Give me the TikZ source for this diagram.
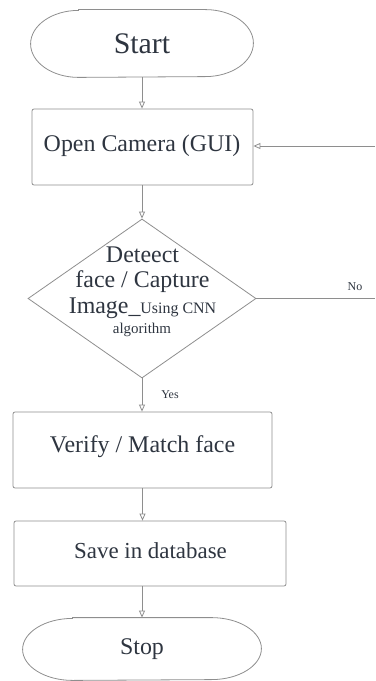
\documentclass[tikz,border=0pt]{standalone}
\usepackage{fontspec}
\setmainfont{Liberation Serif}
\usetikzlibrary{arrows.meta,shapes.geometric,calc}
\definecolor{linec}{HTML}{8E8E8E}
\definecolor{txtc}{HTML}{2E3540}
\begin{document}
\begin{tikzpicture}[x=1bp,y=-1bp,
  line width=0.8bp,
  box/.style={draw=linec, rounded corners=2bp, inner sep=0pt, text=txtc},
  term/.style={inner sep=0pt, text=txtc},
  lbl/.style={inner sep=0pt, text=txtc},
  arr/.style={draw=linec, -{Triangle[open,length=7bp,width=6bp]}},
  plain/.style={draw=linec}]
\useasboundingbox (0,0) rectangle (375,681);

% Start terminal
\node[term, minimum width=222bp, minimum height=67bp, font=\fontsize{30}{32}\selectfont] (start) at (142,43.5) {Start};
\draw[linec] ($(start.north west)+(48,0)$) -- ($(start.north east)+(-48,0)$)
  arc[start angle=90,end angle=-90,x radius=48bp,y radius=33.5bp]
  -- ($(start.south west)+(48,0)$)
  arc[start angle=270,end angle=90,x radius=48bp,y radius=33.5bp] -- cycle;

% Open camera
\node[box, minimum width=221bp, minimum height=76bp, font=\fontsize{24}{26}\selectfont] (cam) at (142.5,147) {};
\node[lbl, font=\fontsize{24}{26}\selectfont] (camt) at (142,146) {Open Camera (GUI)};

% Decision
\node[diamond, draw=linec, minimum width=228bp, minimum height=159bp, inner sep=0pt] (dec) at (142,298.5) {};
\node[lbl, anchor=base, font=\fontsize{24}{26}\selectfont] (d1) at (142.5,262) {Deteect};
\node[lbl, anchor=base, font=\fontsize{24}{26}\selectfont] (d2) at (142.5,287) {face / Capture};
\node[lbl, anchor=base, font=\fontsize{24}{26}\selectfont] (d3) at (142.5,313) {Image\_{\fontsize{16}{18}\selectfont Using CNN}};
\node[lbl, anchor=base, font=\fontsize{15}{17}\selectfont] (d4) at (142,333) {algorithm};

% Verify
\node[box, minimum width=259bp, minimum height=76bp] (ver) at (142.5,450) {};
\node[lbl, font=\fontsize{24}{26}\selectfont] (vert) at (142.5,447) {Verify / Match face};

% Save
\node[box, minimum width=272bp, minimum height=65bp] (sav) at (150,553.5) {};
\node[lbl, font=\fontsize{23}{25}\selectfont] (savt) at (150.5,551) {Save in database};

% Stop terminal
\node[term, minimum width=238bp, minimum height=62bp, font=\fontsize{24}{26}\selectfont] (stop) at (142,649) {Stop};
\draw[linec] ($(stop.north west)+(50,0)$) -- ($(stop.north east)+(-50,0)$)
  arc[start angle=90,end angle=-90,x radius=50bp,y radius=31bp]
  -- ($(stop.south west)+(50,0)$)
  arc[start angle=270,end angle=90,x radius=50bp,y radius=31bp] -- cycle;

% Connectors
\draw[arr] (start.south) -- (start.south |- cam.north);
\draw[arr] (dec.north |- cam.south) -- (dec.north);
\draw[arr] (dec.south) -- (dec.south |- ver.north);
\node[lbl, font=\fontsize{12}{14}\selectfont] (yes) at (170,395) {Yes};
\draw[arr] (ver.south) -- (ver.south |- sav.north);
\draw[arr] (stop.north |- sav.south) -- (stop.north);

\coordinate (fb) at (375,146);
\draw[arr] (fb) -- (fb -| cam.east);
\coordinate (noend) at (375,298.5);
\draw[plain] (dec.east) -- (noend);
\node[lbl, font=\fontsize{12}{14}\selectfont] (no) at (355,287) {No};
\end{tikzpicture}
\end{document}
